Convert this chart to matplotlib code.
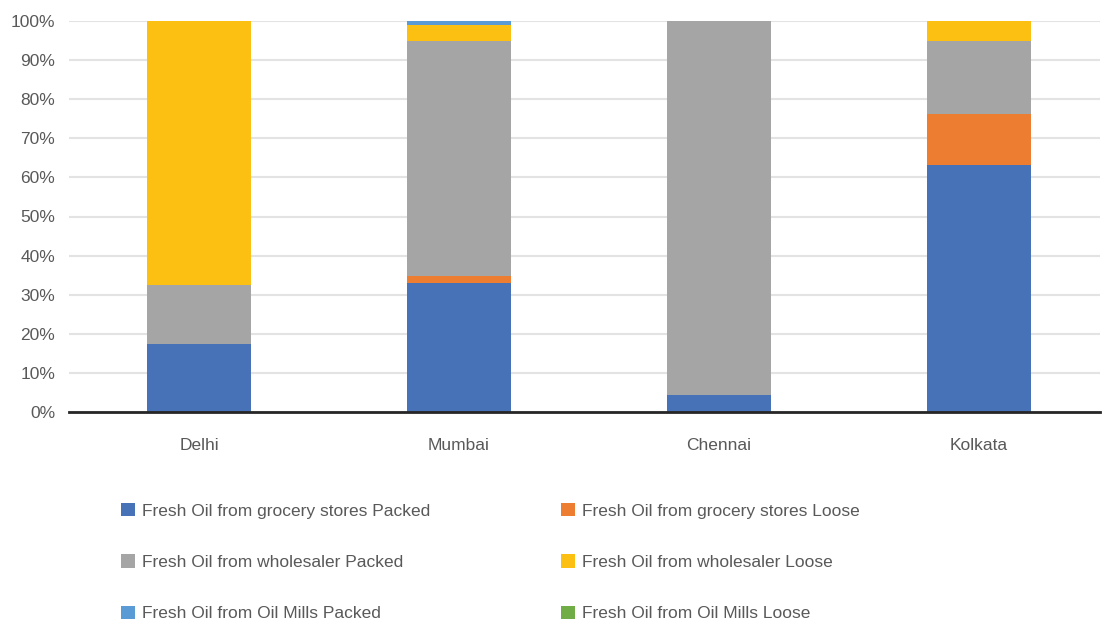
import matplotlib
matplotlib.use("Agg")
import matplotlib.pyplot as plt
import numpy as np
from matplotlib.patches import Patch

plt.rcParams['font.family'] = ['Liberation Sans', 'DejaVu Sans']

cities = ["Delhi", "Mumbai", "Chennai", "Kolkata"]
series_names = [
    "Fresh Oil from grocery stores Packed",
    "Fresh Oil from grocery stores Loose",
    "Fresh Oil from wholesaler Packed",
    "Fresh Oil from wholesaler Loose",
    "Fresh Oil from Oil Mills Packed",
    "Fresh Oil from Oil Mills Loose",
]
grocery_packed = [17.5, 33.0, 4.3, 63.2]
grocery_loose = [0.0, 1.8, 0.0, 12.9]
wholesaler_packed = [15.0, 60.0, 95.7, 18.9]
wholesaler_loose = [67.5, 4.2, 0.0, 5.0]
mills_packed = [0.0, 1.0, 0.0, 0.0]
mills_loose = [0.0, 0.0, 0.0, 0.0]
yticks = [0, 10, 20, 30, 40, 50, 60, 70, 80, 90, 100]

series = [grocery_packed, grocery_loose, wholesaler_packed,
          wholesaler_loose, mills_packed, mills_loose]
colors = ["#4872B7", "#ED7D31", "#A5A5A5", "#FBC012", "#5B9BD5", "#70AD47"]

fig = plt.figure(figsize=(11.03, 6.24), dpi=100)
ax = fig.add_axes([69/1103, 1-412/624, (1100-69)/1103, (412-21)/624])

x = np.arange(len(cities))
bottom = np.zeros(len(cities))
handles = []
for vals, col, name in zip(series, colors, series_names):
    v = np.array(vals)
    ax.bar(x, v, 0.4, bottom=bottom, color=col, edgecolor="none", zorder=3)
    bottom += v
    handles.append(Patch(facecolor=col, edgecolor="none", label=name))

ax.set_ylim(0, 100)
ax.set_xlim(-0.5, 3.5 - (1109-1100)/260)
ax.set_yticks(yticks)
ax.set_yticklabels([f"{t}%" for t in yticks])
ax.set_xticks(x)
ax.set_xticklabels(cities)
ax.tick_params(axis="both", length=0, labelsize=12.5, colors="#595959")
ax.tick_params(axis="x", pad=19)
ax.tick_params(axis="y", pad=10)
ax.grid(axis="y", color="#E3E3E3", linewidth=1.5, zorder=0)
for s in ["top", "right", "left"]:
    ax.spines[s].set_visible(False)
ax.spines["bottom"].set_color("#262626")
ax.spines["bottom"].set_linewidth(2)
ax.spines["bottom"].set_zorder(4)

leg_kw = dict(loc="upper left", frameon=False, fontsize=12.5,
              handlelength=0.8, handleheight=0.8, handletextpad=0.4,
              labelspacing=2.05, labelcolor="#595959", borderaxespad=0, borderpad=0)
l1 = fig.legend(handles=[handles[0], handles[2], handles[4]],
                bbox_to_anchor=(121/1103, 1-503/624), **leg_kw)
l2 = fig.legend(handles=[handles[1], handles[3], handles[5]],
                bbox_to_anchor=(561/1103, 1-503/624), **leg_kw)

fig.savefig("out.png", dpi=100)
